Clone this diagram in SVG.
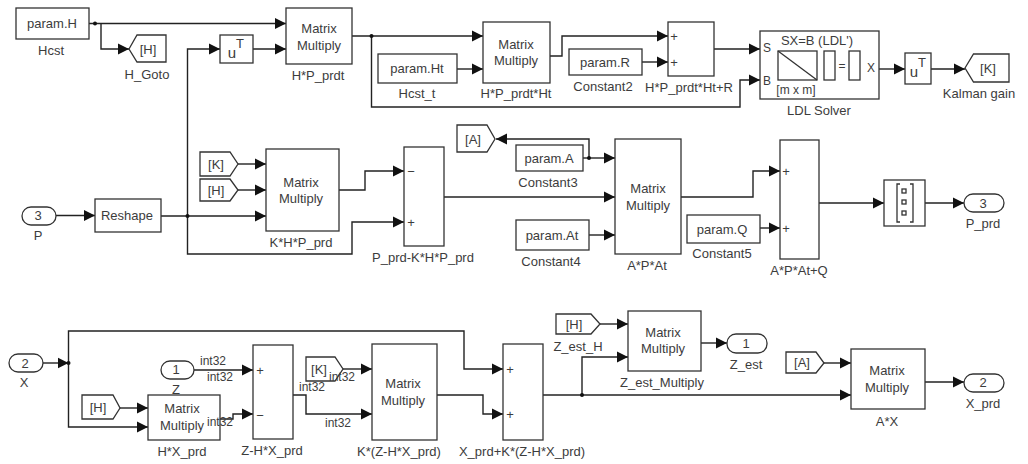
<svg xmlns="http://www.w3.org/2000/svg" width="1028" height="464" viewBox="0 0 1028 464">
<defs>
<marker id="arr" markerUnits="userSpaceOnUse" markerWidth="12" markerHeight="12" refX="11" refY="6" orient="auto"><path d="M0 0.500L11 6L0 11.500Z" fill="#111"/></marker>
</defs>
<style>
rect,path.b,polygon{fill:#fff;stroke:#333;stroke-width:1.3}
.c path{fill:none;stroke:#222;stroke-width:1.4}
.c path.a{marker-end:url(#arr)}
.c circle{fill:#111}
text{font-family:"Liberation Sans",Arial,sans-serif;font-size:13px;fill:#3c3c3c;text-anchor:middle;dominant-baseline:central}
.s{font-size:12px}
.u{font-size:15px}
</style>
<rect x="0" y="0" width="1028" height="464" style="fill:#fff;stroke:none"/>
<g id="connectors" class="c">
<path class="a" d="M89 23.500H286"/><path class="a" d="M101 23.500V49H129"/>
<path class="a" d="M253 49H286"/><path class="a" d="M187.500 216V49H220"/>
<path class="a" d="M352 36H483"/><path class="a" d="M371.500 36V107H740V80H760"/>
<path class="a" d="M457 69H483"/><path class="a" d="M550 56H562V36H668"/><path class="a" d="M642 62H668"/>
<path class="a" d="M714 49H760"/><path class="a" d="M879 69H905"/><path class="a" d="M931 69H965"/>
<path class="a" d="M56 215.500H95"/><path class="a" d="M161 216H266"/>
<path class="a" d="M238 164H266"/><path class="a" d="M238 190H266"/>
<path class="a" d="M339 190H365V171H404"/><path class="a" d="M187.500 216V254H352V222H404"/>
<path class="a" d="M444 197H615"/>
<path class="a" d="M583 158H615"/><path class="a" d="M589 158V139H496"/><path class="a" d="M589 235H615"/>
<path class="a" d="M681 197H753V171H780"/><path class="a" d="M760 228H780"/>
<path class="a" d="M819 203H884"/><path class="a" d="M925 203H964"/>
<path class="a" d="M43 363H68.500"/>
<path class="a" d="M68.500 363V331H464V369H503"/><path class="a" d="M68.500 363V427H148"/>
<path class="a" d="M120 408H148"/><path class="a" d="M194 370H253"/>
<path class="a" d="M220 419H233V414H253"/>
<path class="a" d="M343 369H372"/><path class="a" d="M293 395H306V414H372"/>
<path class="a" d="M437 395H483V414H503"/>
<path class="a" d="M543 395H851"/><path class="a" d="M582 395V357H628"/>
<path class="a" d="M600 324H628"/><path class="a" d="M701 343H727"/>
<path class="a" d="M824 363H851"/><path class="a" d="M925 382H964"/>
<circle cx="95" cy="23.500" r="2"/><circle cx="371.500" cy="36" r="2"/><circle cx="187.500" cy="216" r="2"/><circle cx="589" cy="158" r="2"/><circle cx="68.500" cy="363" r="2"/><circle cx="582" cy="395" r="2"/>
</g>
<g id="Hcst"><rect x="16" y="8" width="73" height="31"/><text x="52" y="23">param.H</text><text x="51" y="50">Hcst</text></g>
<g id="H_Goto"><polygon points="129,49 137,35 166,35 166,62 137,62"/><text x="148" y="49">[H]</text><text x="147" y="74">H_Goto</text></g>
<g id="transpose1"><rect x="220" y="35" width="33" height="28"/><text x="232" y="52" class="u">u</text><text x="240" y="43">T</text></g>
<g id="H_P_prdt"><rect x="286" y="8" width="66" height="56"/><text x="319" y="28">Matrix</text><text x="319" y="45">Multiply</text><text x="318" y="75">H*P_prdt</text></g>
<g id="Hcst_t"><rect x="378" y="54" width="79" height="29"/><text x="417" y="68">param.Ht</text><text x="417" y="93">Hcst_t</text></g>
<g id="H_P_prdt_Ht"><rect x="483" y="22" width="67" height="61"/><text x="516" y="44">Matrix</text><text x="516" y="60">Multiply</text><text x="516" y="93">H*P_prdt*Ht</text></g>
<g id="Constant2"><rect x="569" y="49" width="73" height="26"/><text x="605" y="62">param.R</text><text x="603" y="86">Constant2</text></g>
<g id="H_P_prdt_Ht_R"><rect x="668" y="22" width="46" height="54"/><text x="674" y="36">+</text><text x="674" y="62">+</text><text x="689" y="87">H*P_prdt*Ht+R</text></g>
<g id="LDL_Solver"><rect x="760" y="31" width="119" height="68"/><text x="817" y="40">SX=B (LDL')</text><rect x="778" y="51" width="39" height="29"/><path class="b" d="M778 51L817 80"/><rect x="824" y="51" width="11" height="29"/><text x="842" y="66" class="s">=</text><rect x="849" y="51" width="11" height="29"/><text x="767" y="48" class="s">S</text><text x="767" y="81" class="s">B</text><text x="871" y="68" class="s">X</text><text x="796" y="90" class="s">[m x m]</text><text x="819" y="110">LDL Solver</text></g>
<g id="transpose2"><rect x="905" y="53" width="26" height="31"/><text x="914" y="71" class="u">u</text><text x="922" y="62">T</text></g>
<g id="Kalman_gain"><polygon points="965,68 973.500,54 1009,54 1009,82 973.500,82"/><text x="988" y="68">[K]</text><text x="979" y="93">Kalman gain</text></g>
<g id="A_Goto"><polygon points="457,125 487,125 495,139 487,152 457,152"/><text x="473" y="139">[A]</text></g>
<g id="Constant3"><rect x="516" y="145" width="67" height="26"/><text x="549" y="158">param.A</text><text x="548" y="182">Constant3</text></g>
<g id="Constant4"><rect x="516" y="220" width="73" height="30"/><text x="552" y="235">param.At</text><text x="551" y="261">Constant4</text></g>
<g id="A_P_At"><rect x="615" y="139" width="66" height="115"/><text x="648" y="188">Matrix</text><text x="648" y="205">Multiply</text><text x="647" y="265">A*P*At</text></g>
<g id="Constant5"><rect x="687" y="215" width="73" height="28"/><text x="722" y="229">param.Q</text><text x="722" y="253">Constant5</text></g>
<g id="A_P_At_Q"><rect x="780" y="140" width="39" height="119"/><text x="786" y="171">+</text><text x="786" y="228">+</text><text x="799" y="270">A*P*At+Q</text></g>
<g id="Reshape_out"><rect x="884" y="180" width="41" height="46"/><path d="M900 184H897V222H900M910 184H913V222H910" style="fill:none;stroke:#333;stroke-width:1.300"/><rect x="902" y="189" width="4" height="4"/><rect x="902" y="200" width="4" height="4"/><rect x="902" y="211" width="4" height="4"/></g>
<g id="P_prd"><rect x="964" y="194" width="40" height="18" rx="9"/><text x="983" y="203">3</text><text x="983" y="223">P_prd</text></g>
<g id="P"><rect x="22" y="207" width="34" height="18" rx="9"/><text x="38" y="215">3</text><text x="38" y="235">P</text></g>
<g id="Reshape"><rect x="95" y="199" width="66" height="33"/><text x="127" y="215">Reshape</text></g>
<g id="K_From"><polygon points="200,152 230,152 238,164 230,176 200,176"/><text x="216" y="164">[K]</text></g>
<g id="H_From"><polygon points="200,179 230,179 238,190 230,201 200,201"/><text x="216" y="190">[H]</text></g>
<g id="K_H_P_prd"><rect x="266" y="149" width="73" height="82"/><text x="301" y="182">Matrix</text><text x="301" y="198">Multiply</text><text x="301" y="242">K*H*P_prd</text></g>
<g id="P_prd_KHP"><rect x="404" y="147" width="40" height="99"/><text x="411" y="171">−</text><text x="411" y="222">+</text><text x="423" y="257">P_prd-K*H*P_prd</text></g>
<g id="X"><rect x="9" y="354" width="34" height="18" rx="9"/><text x="25" y="363">2</text><text x="24" y="382">X</text></g>
<g id="H_From2"><polygon points="82,395 113,395 120,408 113,419 82,419"/><text x="98" y="407">[H]</text></g>
<g id="H_X_prd"><rect x="148" y="395" width="72" height="45"/><text x="182" y="408">Matrix</text><text x="182" y="425">Multiply</text><text x="182" y="451">H*X_prd</text></g>
<g id="Z"><rect x="161" y="361" width="33" height="18" rx="9"/><text x="176" y="369">1</text><text x="176" y="389">Z</text></g>
<g id="Z_HX"><rect x="253" y="345" width="40" height="94"/><text x="260" y="370">+</text><text x="260" y="415">−</text><text x="272" y="450">Z-H*X_prd</text></g>
<g id="K_From2"><polygon points="306,357 335,357 343,369 335,381 306,381"/><text x="319" y="369">[K]</text></g>
<g id="K_ZHX"><rect x="372" y="344" width="65" height="96"/><text x="403" y="383">Matrix</text><text x="403" y="400">Multiply</text><text x="399" y="451">K*(Z-H*X_prd)</text></g>
<g id="X_prd_sum"><rect x="503" y="344" width="40" height="96"/><text x="510" y="369">+</text><text x="510" y="414">+</text><text x="522" y="451">X_prd+K*(Z-H*X_prd)</text></g>
<g id="Z_est_H"><polygon points="556,314 591,314 600,324 591,334 556,334"/><text x="574" y="324">[H]</text><text x="578" y="346">Z_est_H</text></g>
<g id="Z_est_Multiply"><rect x="628" y="311" width="73" height="60"/><text x="663" y="332">Matrix</text><text x="663" y="348">Multiply</text><text x="662" y="382">Z_est_Multiply</text></g>
<g id="Z_est"><rect x="727" y="334" width="40" height="19" rx="9"/><text x="746" y="343">1</text><text x="746" y="364">Z_est</text></g>
<g id="A_From"><polygon points="786,352 816,352 824,363 816,373 786,373"/><text x="802" y="362">[A]</text></g>
<g id="A_X"><rect x="851" y="349" width="74" height="60"/><text x="887" y="370">Matrix</text><text x="887" y="387">Multiply</text><text x="887" y="421">A*X</text></g>
<g id="X_prd"><rect x="964" y="374" width="40" height="18" rx="9"/><text x="983" y="382">2</text><text x="983" y="403">X_prd</text></g>
<g id="signal_labels" class="s"><text class="s" x="213" y="361">int32</text><text class="s" x="220" y="377">int32</text><text class="s" x="220" y="422">int32</text><text class="s" x="342" y="377">int32</text><text class="s" x="312" y="387">int32</text><text class="s" x="338" y="423">int32</text></g>
</svg>
